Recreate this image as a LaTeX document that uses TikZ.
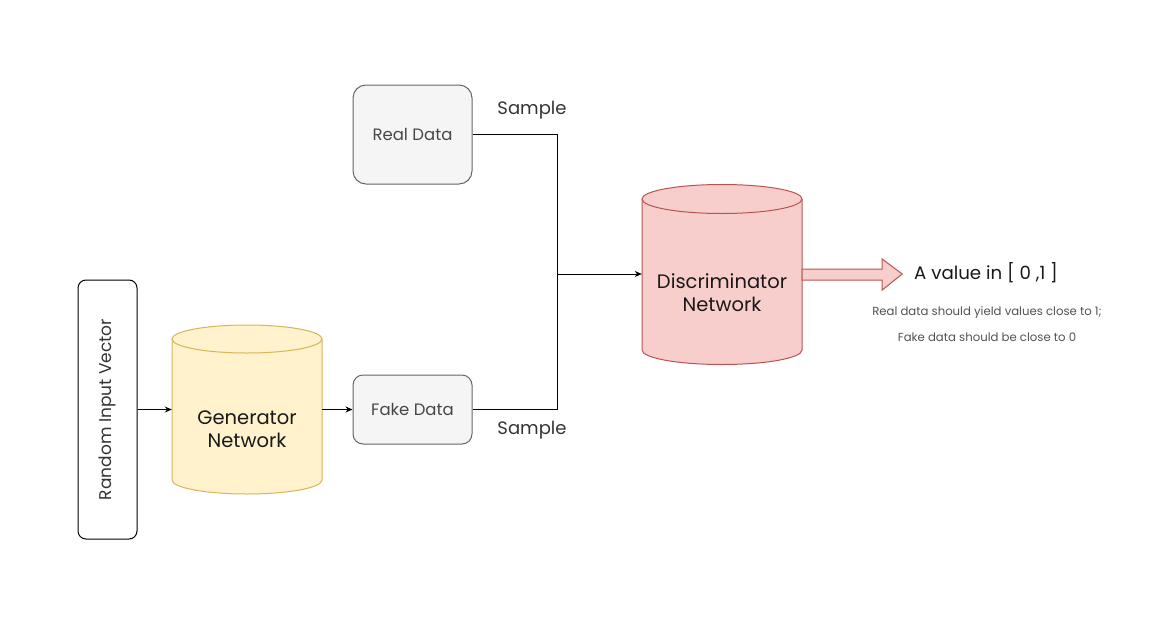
\documentclass[tikz,border=0pt]{standalone}
\usepackage{fontspec}
\setmainfont{Poppins}
\usetikzlibrary{arrows.meta,calc}
\definecolor{grayfill}{HTML}{F5F5F5}
\definecolor{graystroke}{HTML}{666666}
\definecolor{txtgray}{HTML}{333333}
\definecolor{yelfill}{HTML}{FFF2CC}
\definecolor{yelstroke}{HTML}{D6B656}
\definecolor{redfill}{HTML}{F8CECC}
\definecolor{redstroke}{HTML}{B85450}
\begin{document}
\begin{tikzpicture}[x=1pt,y=-1pt,
  graybox/.style={draw=graystroke,fill=grayfill,line width=1pt,text=txtgray!90,font=\fontsize{16.5}{19}\selectfont,inner sep=0pt},
  lbl/.style={text=txtgray,font=\fontsize{18}{21}\selectfont},
  cyltext/.style={inner sep=0pt,align=center,font=\fontsize{19.5}{23}\selectfont,text=black!90},
  conn/.style={line width=1pt,-{Stealth[length=7pt,width=6pt]}},
  plain/.style={line width=1pt},
  note/.style={text=txtgray!85,font=\fontsize{11.7}{14}\selectfont}
]
\useasboundingbox (0,0) rectangle (1165,624);
% Random input vector
\node[draw=black,line width=1pt,rounded corners=8pt,minimum width=59pt,minimum height=259pt,inner sep=0pt] (riv) at (107.5,409.5) {};
\node[rotate=90,text=txtgray,font=\fontsize{17}{20}\selectfont] (rivt) at (riv.center) {Random Input Vector};
% Generator cylinder
\fill[yelfill] (172,339) -- (172,480) arc[start angle=180,end angle=0,x radius=75,y radius=14] -- (322,339) arc[start angle=0,end angle=-180,x radius=75,y radius=14] -- cycle;
\draw[yelstroke,line width=1pt] (172,339) -- (172,480) arc[start angle=180,end angle=0,x radius=75,y radius=14] -- (322,339);
\draw[yelstroke,fill=yelfill,line width=1pt] (247,339) ellipse[x radius=75,y radius=14];
\node[inner sep=0pt,minimum width=150pt,minimum height=169pt] (gen) at (247,409.5) {};
\node[cyltext] (gent) at (247,429) {Generator\\Network};
% Discriminator cylinder
\fill[redfill] (642,199) -- (642,350) arc[start angle=180,end angle=0,x radius=80,y radius=14.5] -- (802,199) arc[start angle=0,end angle=-180,x radius=80,y radius=14.5] -- cycle;
\draw[redstroke,line width=1pt] (642,199) -- (642,350) arc[start angle=180,end angle=0,x radius=80,y radius=14.5] -- (802,199);
\draw[redstroke,fill=redfill,line width=1pt] (722,199) ellipse[x radius=80,y radius=14.5];
\node[inner sep=0pt,minimum width=160pt,minimum height=180pt] (disc) at (722,274) {};
\node[cyltext] (disct) at (722,293) {Discriminator\\Network};
% data boxes
\node[graybox,minimum width=119pt,minimum height=99pt,rounded corners=13pt] (real) at (412.5,134.5) {Real Data};
\node[graybox,minimum width=119pt,minimum height=69pt,rounded corners=10pt] (fake) at (412.5,409.5) {Fake Data};
\node[lbl] (s1) at (532,110) {Sample};
\node[lbl] (s2) at (532,430) {Sample};
% connectors
\coordinate (jm) at (557,274);
\draw[conn] (riv.east |- gen.west) -- (gen.west);
\draw[conn] (gen.east) -- (fake.west);
\draw[plain] (real.east) -| (jm);
\draw[plain] (fake.east) -| (jm);
\draw[conn] (jm) -- (disc.west);
% block arrow
\draw[redstroke,fill=redfill,line width=1pt] ($(disc.east)+(0,-5)$) -- ++(80,0) -- ++(0,-10) -- ++(20,15) -- ++(-20,16) -- ++(0,-10) -- ++(-80,0) -- cycle;
\node[anchor=west,font=\fontsize{18.2}{21}\selectfont,text=black!90,inner sep=0pt] (val) at (914,273) {A value in [ 0 ,1 ]};
\node[note] (n1) at (987,313) {Real data should yield values close to 1;};
\node[note] (n2) at (987,337) {Fake data should be close to 0};
\end{tikzpicture}
\end{document}
